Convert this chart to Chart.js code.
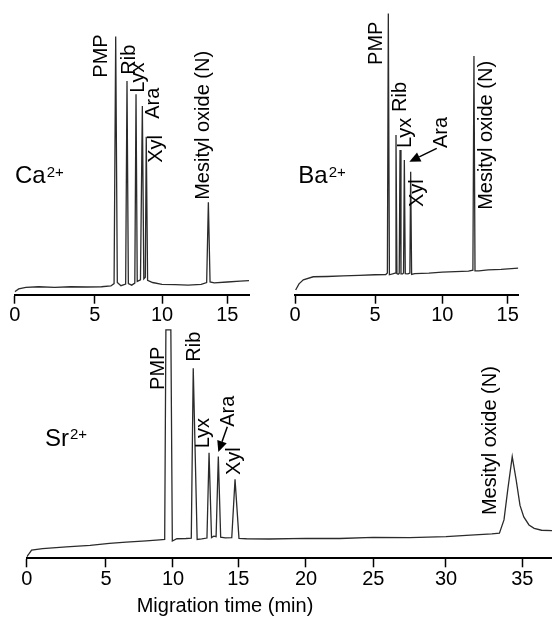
<!DOCTYPE html>
<html>
<head>
<meta charset="utf-8">
<title>Eletroferogramas</title>
<script src="https://cdn.jsdelivr.net/npm/chart.js@4.4.1/dist/chart.umd.min.js"></script>
<style>
  body { margin: 0; background: #fff; }
  #figura { position: relative; width: 552px; height: 618px; overflow: hidden; background: #fff; }
  #figura canvas { position: absolute; }
</style>
</head>
<body>
<div id="figura">
  <canvas id="graficoCa" width="270" height="335" style="left:0;top:0"></canvas>
  <canvas id="graficoBa" width="276" height="335" style="left:276px;top:0"></canvas>
  <canvas id="graficoSr" width="552" height="300" style="left:0;top:318px"></canvas>
</div>
<script>
// tempo de migração (min) e sinal (unidades arbitrárias, 0-100) de cada corrida
const tempoCa = [0, 0.25, 0.7, 1.5, 2.5, 3.5, 4.5, 5.5, 6.2, 6.44, 6.56, 6.68, 6.95, 7.30, 7.40, 7.50, 7.75, 7.98, 8.07, 8.16, 8.40, 8.54, 8.65, 8.76, 8.83, 8.93, 9.3, 10.0, 11.0, 12.0, 13.0, 13.42, 13.55, 13.68, 14.0, 15.0, 16.0, 16.7];
const sinalCa = [1.1, 2.2, 2.8, 3.0, 2.8, 3.0, 2.9, 3.0, 3.3, 4.2, 97.4, 4.6, 3.4, 4.0, 80.6, 4.2, 3.6, 4.4, 75.6, 5.0, 5.6, 71.2, 6.0, 6.6, 59.6, 5.4, 4.6, 3.9, 3.8, 3.6, 3.9, 4.6, 34.9, 4.8, 4.5, 4.8, 5.1, 5.3];

const tempoBa = [0.04, 0.25, 0.52, 1.14, 2.0, 3.0, 4.0, 5.0, 5.80, 5.92, 5.99, 6.07, 6.30, 6.49, 6.56, 6.63, 6.72, 6.80, 6.86, 6.93, 7.05, 7.12, 7.18, 7.25, 7.45, 7.59, 7.65, 7.72, 7.95, 9.0, 10.0, 11.0, 12.0, 12.34, 12.42, 12.50, 12.8, 13.5, 14.5, 15.8];
const sinalBa = [1.65, 3.8, 5.2, 6.3, 6.4, 6.6, 6.8, 7.0, 7.1, 7.6, 98.8, 7.0, 7.3, 7.6, 56.1, 7.4, 7.2, 7.5, 50.8, 7.3, 7.3, 7.6, 47.3, 7.4, 7.3, 7.6, 43.2, 7.1, 7.4, 7.6, 7.9, 8.1, 8.3, 8.6, 83.8, 8.4, 8.4, 8.7, 8.9, 9.3];

const tempoSr = [0, 0.15, 0.31, 1.0, 2.5, 4.0, 5.25, 6.5, 8.0, 9.0, 9.38, 9.47, 9.84, 9.95, 10.3, 11.0, 11.40, 11.55, 11.85, 12.2, 12.60, 12.76, 12.95, 13.12, 13.30, 13.47, 13.65, 14.0, 14.50, 14.75, 15.05, 15.6, 17.3, 20.0, 22.5, 25.0, 27.5, 30.0, 31.6, 33.0, 33.5, 33.8, 34.05, 34.34, 34.6, 34.85, 35.1, 35.45, 35.8, 36.3, 37.0];
const sinalSr = [0.6, 2.0, 3.6, 4.2, 5.0, 5.6, 6.5, 7.0, 7.6, 8.0, 8.2, 99.3, 99.3, 7.5, 8.5, 8.6, 8.8, 82.6, 8.2, 8.4, 8.8, 45.9, 9.0, 9.6, 9.4, 44.2, 9.2, 8.9, 9.0, 34.3, 8.7, 8.5, 8.4, 8.7, 8.6, 9.1, 9.0, 9.4, 10.1, 10.6, 10.9, 16.7, 30, 44.2, 34, 23, 18, 14.5, 13, 12.2, 12.0];

// picos identificados
const nomesPicos = ["PMP", "Rib", "Lyx", "Ara", "Xyl", "Mesityl oxide (N)"];
const picosCa = [6.56, 7.40, 8.07, 8.54, 8.83, 13.55];
const picosBa = [5.99, 6.56, 6.86, 7.18, 7.65, 12.42];
const picosSr = [9.65, 11.55, 12.76, 13.47, 14.75, 34.34];

const passo = 5;
const fonte = '"Liberation Sans", Arial, Helvetica, sans-serif';

Chart.defaults.font.family = fonte;
Chart.defaults.font.size = 20;
Chart.defaults.color = "#000";

// largura (px) de cada intervalo de 5 min no eixo de cada gráfico
const largurasEixo = {};

class EscalaTempo extends Chart.LinearScale {
    decimalDe(valor) {
        const larguras = largurasEixo[this.chart.canvas.id];
        const total = larguras.reduce((acc, l) => acc + l, 0);
        let acum = 0;
        for (let i = 0; i < larguras.length; i++) {
            const ini = i * passo;
            const fim = Math.min((i + 1) * passo, this.max);
            if (valor <= fim || i === larguras.length - 1) {
                return (acum + larguras[i] * (valor - ini) / (fim - ini)) / total;
            }
            acum += larguras[i];
        }
        return 1;
    }

    getPixelForValue(valor) {
        if (valor === null || valor === undefined) return NaN;
        return this.getPixelForDecimal(this.decimalDe(valor));
    }

    getValueForPixel(pixel) {
        const larguras = largurasEixo[this.chart.canvas.id];
        const total = larguras.reduce((acc, l) => acc + l, 0);
        let resto = this.getDecimalForPixel(pixel) * total;
        for (let i = 0; i < larguras.length; i++) {
            const ini = i * passo;
            const fim = Math.min((i + 1) * passo, this.max);
            if (resto <= larguras[i] || i === larguras.length - 1) {
                return ini + (fim - ini) * resto / larguras[i];
            }
            resto -= larguras[i];
        }
        return this.max;
    }
}
EscalaTempo.id = "tempo";
EscalaTempo.defaults = Chart.LinearScale.defaults;
Chart.register(EscalaTempo);

const paineis = [
    {
        canvas: "graficoCa", ion: "Ca", tempos: tempoCa, sinal: sinalCa, picos: picosCa, tempoMax: 16.7,
        padding: { left: 14.7, right: 21, top: 29.7, bottom: 5.3 },
        larguras: [80, 67.3, 65.3, 21.7],
        rotuloDx: [-14, 2.3, 2.7, 10.7, 10.4, -4.6],
        rotuloNivel: [81.9, 83.0, 76.2, 66.4, 49.8, 35.8],
        posIon: [15, 183.3],
        seta: null
    },
    {
        canvas: "graficoBa", ion: "Ba", tempos: tempoBa, sinal: sinalBa, picos: picosBa, tempoMax: 15.8,
        padding: { left: 19, right: 33.7, top: 10, bottom: 5.3 },
        larguras: [80, 67.3, 65.4, 10.6],
        rotuloDx: [-12.3, 4, 5.3, 37.4, 6.6, 12.3],
        rotuloNivel: [80.7, 64.2, 51.5, 51.5, 30.8, 29.8],
        posIon: [22.3, 183.3],
        seta: { de: [32.4, 51.4], para: [5, 46.7] }
    },
    {
        canvas: "graficoSr", ion: "Sr", tempos: tempoSr, sinal: sinalSr, picos: picosSr, tempoMax: 37,
        padding: { left: 26.7, right: 0, top: 10.3, bottom: 24.7 },
        larguras: [79.3, 67, 65.3, 67.7, 67.3, 72.7, 76.3, 29.7],
        rotuloDx: [-10, 1.7, -6, 9.7, -0.5, -21.8],
        rotuloNivel: [73.2, 85.5, 47.8, 57.2, 36.2, 18.8],
        posIon: [45, 128],
        seta: { de: [9, 57.2], para: [0, 46.2] },
        titulo: { texto: "Migration time (min)", pos: [225, 288] }
    }
];

function anotacoes(p) {
    return {
        id: "anotacoes",
        afterDatasetsDraw(chart) {
            const { ctx, scales: { x, y } } = chart;
            ctx.save();
            ctx.fillStyle = "#000";
            ctx.strokeStyle = "#000";

            // nomes dos picos, na vertical
            ctx.font = `20px ${fonte}`;
            ctx.textAlign = "left";
            ctx.textBaseline = "middle";
            nomesPicos.forEach((nome, i) => {
                const px = x.getPixelForValue(p.picos[i]) + p.rotuloDx[i];
                const py = y.getPixelForValue(p.rotuloNivel[i]);
                ctx.save();
                ctx.translate(px, py);
                ctx.rotate(-Math.PI / 2);
                ctx.fillText(nome, 0, 0);
                ctx.restore();
            });

            // seta apontando o pico da Ara
            if (p.seta) {
                const base = x.getPixelForValue(p.picos[3]);
                const x1 = base + p.seta.de[0], y1 = y.getPixelForValue(p.seta.de[1]);
                const x2 = base + p.seta.para[0], y2 = y.getPixelForValue(p.seta.para[1]);
                const ang = Math.atan2(y2 - y1, x2 - x1);
                const comp = 11, meia = 5;
                ctx.lineWidth = 1.5;
                ctx.beginPath();
                ctx.moveTo(x1, y1);
                ctx.lineTo(x2 - comp * Math.cos(ang), y2 - comp * Math.sin(ang));
                ctx.stroke();
                ctx.beginPath();
                ctx.moveTo(x2, y2);
                ctx.lineTo(x2 - comp * Math.cos(ang) + meia * Math.sin(ang), y2 - comp * Math.sin(ang) - meia * Math.cos(ang));
                ctx.lineTo(x2 - comp * Math.cos(ang) - meia * Math.sin(ang), y2 - comp * Math.sin(ang) + meia * Math.cos(ang));
                ctx.closePath();
                ctx.fill();
            }

            // íon do eletrólito
            ctx.textBaseline = "alphabetic";
            ctx.font = `24px ${fonte}`;
            ctx.fillText(p.ion, p.posIon[0], p.posIon[1]);
            const larg = ctx.measureText(p.ion).width;
            ctx.font = `15px ${fonte}`;
            ctx.fillText("2+", p.posIon[0] + larg + 1, p.posIon[1] - 6.6);

            if (p.titulo) {
                ctx.font = `20px ${fonte}`;
                ctx.textAlign = "center";
                ctx.textBaseline = "middle";
                ctx.fillText(p.titulo.texto, p.titulo.pos[0], p.titulo.pos[1]);
            }
            ctx.restore();
        }
    };
}

function montarGrafico(p) {
    largurasEixo[p.canvas] = p.larguras;
    const ctx = document.getElementById(p.canvas).getContext("2d");
    new Chart(ctx, {
        type: "line",
        data: {
            datasets: [{
                label: p.ion,
                data: p.tempos.map((t, i) => ({ x: t, y: p.sinal[i] })),
                borderColor: "#2b2b2b",
                borderWidth: 1.3,
                pointRadius: 0,
                tension: 0,
                fill: false
            }]
        },
        options: {
            responsive: false,
            animation: false,
            events: [],
            layout: { padding: p.padding },
            plugins: {
                legend: { display: false },
                tooltip: { enabled: false }
            },
            scales: {
                x: {
                    type: "tempo",
                    min: 0,
                    max: p.tempoMax,
                    afterFit: escala => { escala.height = 35; },
                    border: { display: true, color: "#000", width: 2 },
                    grid: { display: true, drawOnChartArea: false, drawTicks: true, tickLength: 9, tickWidth: 1.5, tickColor: "#000" },
                    ticks: { stepSize: passo, includeBounds: false, autoSkip: false, maxRotation: 0, padding: 0, color: "#000", font: { size: 20 } }
                },
                y: { display: false, min: 0, max: 100 }
            }
        },
        plugins: [anotacoes(p)]
    });
}

paineis.forEach(montarGrafico);
</script>
</body>
</html>
